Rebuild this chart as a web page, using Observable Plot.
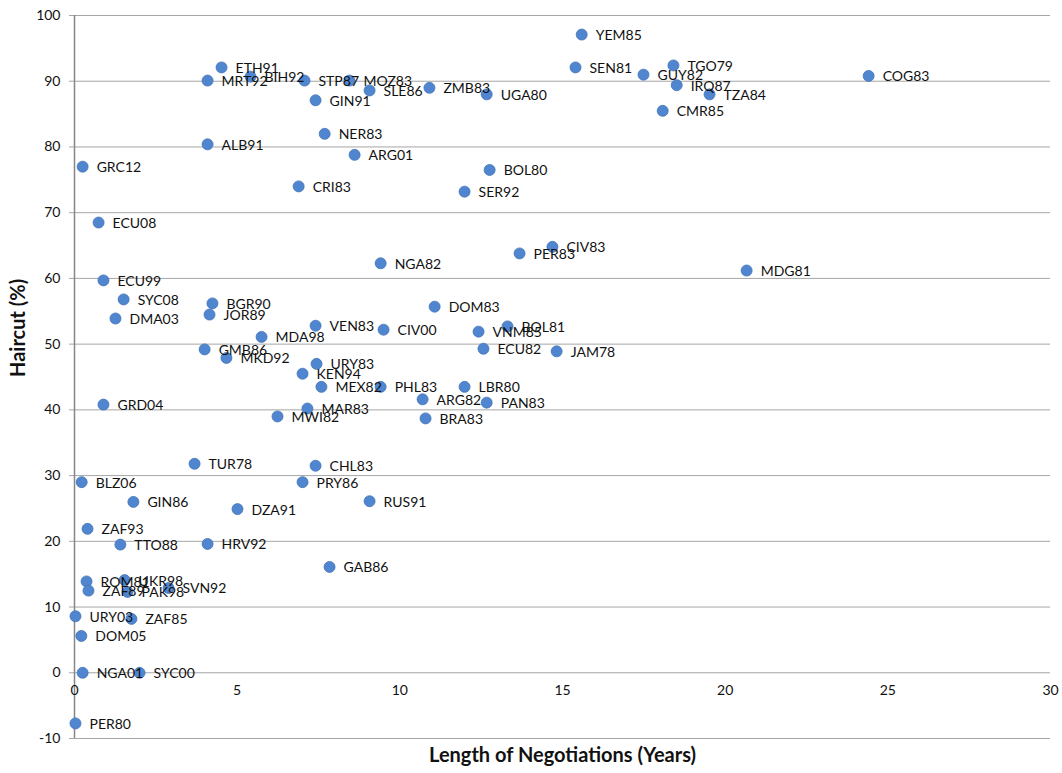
<!DOCTYPE html>
<html>
<head>
<meta charset="utf-8">
<script src="https://cdn.jsdelivr.net/npm/d3@7"></script>
<script src="https://cdn.jsdelivr.net/npm/@observablehq/plot@0.6"></script>
<style>
  html, body { margin: 0; padding: 0; background: #fff; }
  #chart svg { display: block; }
</style>
</head>
<body>
<div id="chart"></div>
<script>
const labels = ["YEM85","SEN81","GUY82","TGO79","IRQ87","TZA84","CMR85","COG83",
  "ETH91","MRT92","BIH92","STP87","MOZ83","SLE86","ZMB83","UGA80","GIN91",
  "NER83","ALB91","ARG01","BOL80","CRI83","SER92","GRC12","ECU08",
  "NGA82","PER83","CIV83","MDG81","ECU99","SYC08","DMA03","BGR90","JOR89",
  "DOM83","VEN83","CIV00","MDA98","VNM85","BOL81","ECU82","JAM78",
  "GMB86","MKD92","URY83","KEN94","MEX82","PHL83","LBR80","ARG82","PAN83",
  "GRD04","MAR83","MWI82","BRA83",
  "TUR78","CHL83","BLZ06","PRY86","GIN86","RUS91","DZA91","ZAF93","TTO88","HRV92","GAB86",
  "ROM81","UKR98","ZAF89","PAK98","SVN92","URY03","ZAF85","DOM05","NGA01","SYC00","PER80"];
const years = [15.59,15.40,17.49,18.41,18.51,19.52,18.08,24.41,
  4.52,4.09,5.41,7.07,8.45,9.07,10.91,12.67,7.41,
  7.69,4.09,8.61,12.76,6.89,11.99,0.25,0.74,
  9.41,13.68,14.69,20.66,0.89,1.51,1.26,4.24,4.15,
  11.07,7.41,9.50,5.75,12.42,13.31,12.57,14.82,
  4.00,4.67,7.44,7.01,7.59,9.41,11.99,10.70,12.67,
  0.89,7.16,6.24,10.79,
  3.69,7.41,0.22,7.01,1.81,9.07,5.01,0.40,1.41,4.09,7.84,
  0.37,1.54,0.43,1.63,2.89,0.03,1.75,0.21,0.25,2.00,0.03];
const haircuts = [97.1,92.1,91.0,92.4,89.4,88.0,85.5,90.8,
  92.1,90.1,90.7,90.1,90.1,88.6,89.0,88.0,87.1,
  82.0,80.4,78.8,76.5,74.0,73.2,77.0,68.5,
  62.3,63.8,64.8,61.2,59.7,56.8,53.9,56.2,54.5,
  55.7,52.8,52.2,51.1,51.9,52.7,49.3,48.9,
  49.2,47.9,47.0,45.5,43.5,43.5,43.5,41.6,41.1,
  40.8,40.2,39.0,38.7,
  31.8,31.5,29.0,29.0,26.0,26.1,24.9,21.9,19.5,19.6,16.1,
  13.9,14.1,12.5,12.3,12.9,8.6,8.2,5.6,0,0,-7.7];
const xTicks = [0, 5, 10, 15, 20, 25, 30];
const yTicks = [-10, 0, 10, 20, 30, 40, 50, 60, 70, 80, 90, 100];

const data = labels.map((name, i) => ({name, years: years[i], haircut: haircuts[i]}));

const chart = Plot.plot({
  width: 1062,
  height: 773,
  marginLeft: 74,
  marginRight: 12,
  marginTop: 15,
  marginBottom: 35,
  style: {fontFamily: "Lato, 'Open Sans', sans-serif", background: "#fff"},
  x: {domain: [0, 30], axis: null},
  y: {domain: [-10, 100], axis: null},
  marks: [
    Plot.ruleY(yTicks, {y: d => d, stroke: "#a6a6a6", strokeWidth: 1}),
    Plot.axisY(yTicks, {tickSize: 5, tickPadding: 9, stroke: "#a6a6a6", fill: "#111", fontSize: 14, label: null, tickFormat: d => String(d)}),
    Plot.ruleX([0], {stroke: "#868686", strokeWidth: 1.5}),
    Plot.text(xTicks, {x: d => d, y: 0, dy: 18, text: d => String(d), fill: "#111", fontSize: 14}),
    Plot.dot(data, {x: "years", y: "haircut", r: 5.5, fill: "#5086cf", stroke: "#4372b5", strokeWidth: 0.8}),
    Plot.text(data, {x: "years", y: "haircut", text: "name", textAnchor: "start", dx: 14, dy: 1, fill: "#111", fontSize: 14}),
    Plot.text(["Haircut (%)"], {frameAnchor: "left", text: d => d, rotate: -90, dx: -56, dy: 0, fontWeight: "bold", fontSize: 20, fill: "#111"}),
    Plot.text(["Length of Negotiations (Years)"], {frameAnchor: "bottom", text: d => d, dy: 23, fontWeight: "bold", fontSize: 20, fill: "#111"})
  ]
});
document.getElementById("chart").appendChild(chart);
</script>
</body>
</html>
